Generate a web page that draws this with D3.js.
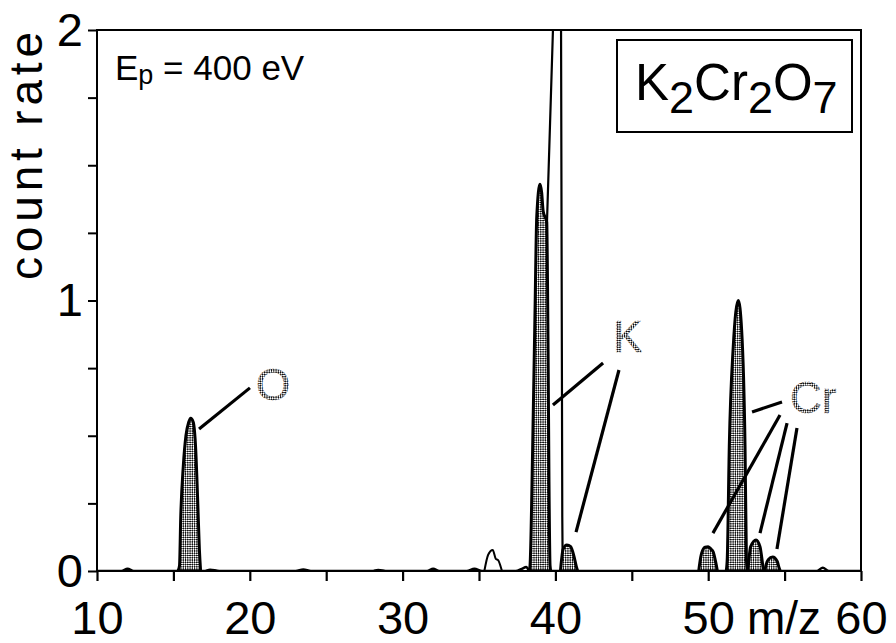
<!DOCTYPE html>
<html>
<head>
<meta charset="utf-8">
<script src="https://cdn.jsdelivr.net/npm/d3@7"></script>
<style>
  body { margin: 0; background: #fff; }
  text { font-family: "Liberation Sans", Arial, Helvetica, sans-serif; }
</style>
</head>
<body>
<div id="chart"></div>
<script>
// peak outlines, [m/z, count rate]
var peakO    = [[15.3,0],[15.4,0.02],[15.48,0.2],[15.65,0.39],[15.82,0.5],[16.0,0.55],[16.13,0.565],[16.3,0.55],[16.46,0.45],[16.59,0.26],[16.7,0.08],[16.78,0]];
var bump36   = [[35.35,0],[35.6,0.06],[35.9,0.078],[36.1,0.045],[36.25,0.04],[36.45,0.01],[36.5,0]];
var peakK39  = [[38.28,0],[38.34,0.02],[38.51,0.45],[38.66,0.94],[38.78,1.31],[38.99,1.43],[39.1,1.4],[39.2,1.33],[39.43,1.29],[39.52,0.82],[39.58,0.33],[39.65,0.02],[39.7,0]];
var peakAr40 = [[39.3,0],[39.45,1.29],[39.84,2.0],[39.9,2.3],[40.3,2.3],[40.37,2.0],[40.45,0.2],[40.48,0]];
var peakK41  = [[40.33,0],[40.4,0.04],[40.5,0.08],[40.75,0.096],[41.0,0.09],[41.22,0.053],[41.4,0.01],[41.46,0]];
var peakCr50 = [[49.38,0],[49.45,0.03],[49.57,0.066],[49.8,0.088],[50.0,0.09],[50.2,0.08],[50.33,0.07],[50.5,0.03],[50.6,0]];
var peakCr52 = [[51.18,0],[51.25,0.05],[51.38,0.46],[51.64,0.83],[51.97,1.0],[52.19,0.89],[52.41,0.46],[52.5,0.05],[52.55,0]];
var peakCr53 = [[52.6,0],[52.66,0.04],[52.78,0.09],[53.13,0.115],[53.39,0.09],[53.55,0.03],[53.62,0]];
var peakCr54 = [[53.7,0],[53.8,0.025],[53.93,0.042],[54.22,0.052],[54.52,0.035],[54.65,0.01],[54.72,0]];
var baseline = [[10,0],[11.6,0],[12,0.008],[12.4,0],[17,0],[17.4,0.005],[18,0],[23,0],[23.5,0.006],[24,0],[28,0],[28.4,0.004],[29,0],[31.6,0],[32,0.008],[32.4,0],[34.2,0],[34.7,0.008],[35.2,0],[37.4,0],[37.8,0.008],[38.1,0.015],[38.3,0],[55,0],[57.1,0],[57.5,0.012],[57.9,0],[60,0]];

var xTicks = [10,15,20,25,30,35,40,45,50,55,60];
var yTicks = [0,0.25,0.5,0.75,1,1.25,1.5,1.75,2];

// leader lines [from, to] in data units, and the element labels
var leaders = [
  [[20.01,0.677],[16.68,0.525]],
  [[43.12,0.769],[39.84,0.614]],
  [[44.16,0.743],[41.35,0.144]],
  [[54.83,0.625],[52.87,0.588]],
  [[54.70,0.577],[50.31,0.140]],
  [[55.16,0.547],[53.39,0.140]],
  [[55.81,0.529],[54.50,0.081]]
];
var labels = [
  {text:"O",  mz:21.52, c:0.632, anchor:"middle"},
  {text:"K",  mz:43.77, c:0.81,  anchor:"start"},
  {text:"Cr", mz:55.35, c:0.584, anchor:"start"}
];

var W = 896, H = 643;
var x = d3.scaleLinear().domain([10,60]).range([97,861]);
var y = d3.scaleLinear().domain([0,2]).range([571,30]);

var svg = d3.select("#chart").append("svg")
  .attr("width",W).attr("height",H);

var defs = svg.append("defs");
var pat = defs.append("pattern")
  .attr("id","stip")
  .attr("patternUnits","userSpaceOnUse")
  .attr("width",3.2).attr("height",3.2)
  .attr("patternTransform","rotate(45)");
pat.append("rect").attr("width",3.2).attr("height",3.2).attr("fill","#fff");
pat.append("rect").attr("width",1.6).attr("height",1.6).attr("fill","#111");
pat.append("rect").attr("x",1.6).attr("y",1.6).attr("width",1.6).attr("height",1.6).attr("fill","#111");

defs.append("clipPath").attr("id","plotClip")
  .append("rect")
  .attr("x",x(10)).attr("y",y(2))
  .attr("width",x(60)-x(10)).attr("height",y(0)-y(2));

var area = d3.area()
  .x(function(d){return x(d[0]);})
  .y0(y(0))
  .y1(function(d){return y(d[1]);})
  .curve(d3.curveMonotoneX);

var line = d3.line()
  .x(function(d){return x(d[0]);})
  .y(function(d){return y(d[1]);})
  .curve(d3.curveMonotoneX);

var plot = svg.append("g").attr("clip-path","url(#plotClip)");

// white (unlabelled) peaks first, hatched peaks over them
plot.append("path").datum(peakAr40)
  .attr("d",area.curve(d3.curveLinear)).attr("fill","#fff")
  .attr("stroke","#000").attr("stroke-width",2.2);
area.curve(d3.curveMonotoneX);
plot.append("path").datum(bump36)
  .attr("d",area).attr("fill","#fff")
  .attr("stroke","#000").attr("stroke-width",2);

var hatched = [peakO,peakK39,peakK41,peakCr50,peakCr52,peakCr53,peakCr54];
plot.selectAll(".peak").data(hatched).enter()
  .append("path")
  .attr("class","peak")
  .attr("d",area)
  .attr("fill","url(#stip)")
  .attr("stroke","#000")
  .attr("stroke-width",3)
  .attr("stroke-linejoin","round");

plot.append("path").datum(baseline)
  .attr("d",line).attr("fill","none")
  .attr("stroke","#000").attr("stroke-width",2.5);

// frame
svg.append("rect")
  .attr("x",x(10)).attr("y",y(2))
  .attr("width",x(60)-x(10)).attr("height",y(0)-y(2))
  .attr("fill","none").attr("stroke","#000").attr("stroke-width",2);

// axes
var xAxis = d3.axisBottom(x)
  .tickValues(xTicks)
  .tickSize(10).tickSizeOuter(0).tickPadding(20)
  .tickFormat(function(d){return d%10===0 ? d : "";});
var gx = svg.append("g").attr("transform","translate(0,"+y(0)+")").call(xAxis);
gx.select(".domain").remove();
gx.selectAll(".tick line").attr("stroke-width",2.2);
gx.selectAll(".tick text").attr("font-size",47).attr("fill","#000");

var yAxis = d3.axisLeft(y)
  .tickValues(yTicks)
  .tickSize(9).tickSizeOuter(0).tickPadding(5)
  .tickFormat(function(d){return d%1===0 ? d : "";});
var gy = svg.append("g").attr("transform","translate("+x(10)+",0)").call(yAxis);
gy.select(".domain").remove();
gy.selectAll(".tick line").attr("stroke-width",2);
gy.selectAll(".tick text").attr("font-size",47).attr("fill","#000");

// axis titles
svg.append("text")
  .attr("x",747).attr("y",634)
  .attr("font-size",46)
  .text("m/z");

svg.append("text")
  .attr("transform","translate(42,156) rotate(-90)")
  .attr("text-anchor","middle")
  .attr("font-size",46)
  .attr("textLength",248).attr("lengthAdjust","spacing")
  .text("count rate");

// primary energy
var ep = svg.append("text").attr("x",115).attr("y",80).attr("font-size",35);
ep.append("tspan").text("E");
ep.append("tspan").attr("font-size",27).attr("dy",4).text("p");
ep.append("tspan").attr("dy",-4).text(" = 400 eV");

// compound box
svg.append("rect")
  .attr("x",617).attr("y",40).attr("width",235).attr("height",92)
  .attr("fill","#fff").attr("stroke","#000").attr("stroke-width",2);
var f = svg.append("text").attr("x",635).attr("y",100).attr("font-size",51);
var parts = [["K",0],["2",1],["Cr",0],["2",1],["O",0],["7",1]];
parts.forEach(function(p,i){
  var prev = i>0 ? parts[i-1][1] : 0;
  f.append("tspan")
    .attr("dy",(p[1]-prev)*13)
    .attr("font-size",p[1] ? 45 : 51)
    .text(p[0]);
});

// leaders and element labels
svg.selectAll(".leader").data(leaders).enter()
  .append("line")
  .attr("class","leader")
  .attr("x1",function(d){return x(d[0][0]);})
  .attr("y1",function(d){return y(d[0][1]);})
  .attr("x2",function(d){return x(d[1][0]);})
  .attr("y2",function(d){return y(d[1][1]);})
  .attr("stroke","#000").attr("stroke-width",3.2);

svg.selectAll(".elem").data(labels).enter()
  .append("text")
  .attr("class","elem")
  .attr("x",function(d){return x(d.mz);})
  .attr("y",function(d){return y(d.c);})
  .attr("text-anchor",function(d){return d.anchor;})
  .attr("font-size",44)
  .attr("fill","url(#stip)")
  .attr("stroke","#555")
  .attr("stroke-width",0.6)
  .attr("stroke-dasharray","1.5 1.5")
  .text(function(d){return d.text;});
</script>
</body>
</html>
